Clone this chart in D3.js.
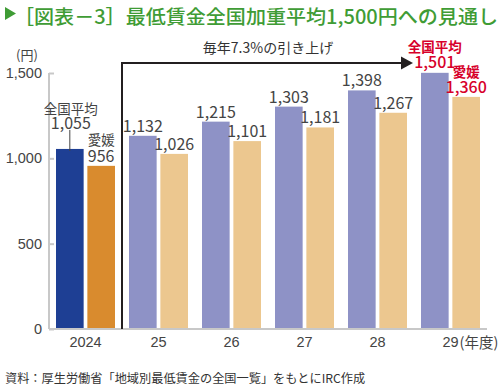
<!DOCTYPE html>
<html><head><meta charset="utf-8">
<script src="https://cdn.jsdelivr.net/npm/d3@7"></script>
<style>
html,body{margin:0;padding:0;background:#fff;}
svg{display:block;font-family:"Noto Sans CJK JP","Noto Sans",sans-serif;}
</style></head>
<body>
<svg id="c" width="500" height="389"></svg>
<script>
const years = ["2024","25","26","27","28","29"];
const national = [1055,1132,1215,1303,1398,1501];
const ehime = [956,1026,1101,1181,1267,1360];
const yTicks = [0,500,1000,1500];
const seriesNames = ["全国平均","愛媛"];
const title = "［図表－3］最低賃金全国加重平均1,500円への見通し";
const note = "毎年7.3%の引き上げ";
const source = "資料：厚生労働省「地域別最低賃金の全国一覧」をもとにIRC作成";

const svg = d3.select("#c");
const green = "#3f9c35";
const txt = "#444";
const grey = "#c8c8c8";
const red = "#d7002a";
const colNatPast = "#1e3f94", colEhPast = "#d98b2e";
const colNat = "#8e92c6", colEh = "#ecc78f";

// Title
svg.append("path").attr("d","M5,7 L16,13.5 L5,20 Z").attr("fill",green);
svg.append("text").attr("x",14).attr("y",24).attr("fill",green).attr("font-weight",500)
  .attr("font-size",19.5).attr("textLength",484).attr("lengthAdjust","spacingAndGlyphs").text(title);

const x0 = 49, x1 = 487;
const x = d3.scaleBand().domain(years).range([x0,x1]).paddingInner(14/73).paddingOuter(7/73);
const xi = d3.scaleBand().domain([0,1]).range([0,x.bandwidth()]).paddingInner(7/59);
const y = d3.scaleLinear().domain([0,1500]).range([329,73]);

// Y axis
svg.append("line").attr("x1",x0).attr("x2",x0).attr("y1",y(0)).attr("y2",y(1500))
  .attr("stroke",grey).attr("stroke-width",2);
const yAx = svg.append("g").attr("transform",`translate(${x0},0)`)
  .call(d3.axisRight(y).tickValues(yTicks).tickSize(5).tickFormat(d3.format(",")));
yAx.select(".domain").remove();
yAx.selectAll(".tick line").attr("stroke",grey).attr("stroke-width",2);
yAx.selectAll(".tick text").attr("x",-7).attr("text-anchor","end").attr("fill",txt)
  .attr("font-size",14.5).attr("font-family",null);
svg.append("text").attr("x",27).attr("y",60).attr("text-anchor","middle").attr("fill",txt)
  .attr("font-size",13).text("(円)");

// Bars
years.forEach((yr,i)=>{
  const vals = [national[i], ehime[i]];
  vals.forEach((v,j)=>{
    const col = i===0 ? (j===0?colNatPast:colEhPast) : (j===0?colNat:colEh);
    svg.append("rect").attr("x",x(yr)+xi(j)).attr("width",xi.bandwidth())
      .attr("y",y(v)).attr("height",y(0)-y(v)).attr("fill",col);
  });
});

// Baseline + x axis
const xAx = svg.append("g").attr("transform",`translate(0,${y(0)})`)
  .call(d3.axisBottom(x).tickSize(0).tickPadding(8));
xAx.select(".domain").attr("stroke",grey).attr("stroke-width",2).attr("d",`M${x0},0H${x1}`);
xAx.selectAll(".tick text").attr("fill",txt).attr("font-size",14.5).attr("font-family",null);
svg.append("text").attr("x",x("29")+x.bandwidth()/2+9).attr("y",y(0)+19)
  .attr("fill",txt).attr("font-size",14.5).text("(年度)");

// Separator and arrow
const sepX = (x("2024")+x.bandwidth()+x("25"))/2;
const arrY = 63;
const tipX = x("29") - 8;
svg.append("path").attr("d",`M${sepX},${y(0)}V${arrY}H${tipX-11}`)
  .attr("fill","none").attr("stroke","#231f20").attr("stroke-width",2);
svg.append("path").attr("d",`M${tipX-12},${arrY-6.5}L${tipX},${arrY}L${tipX-12},${arrY+6.5}Z`).attr("fill","#231f20");
svg.append("text").attr("x",268).attr("y",53).attr("text-anchor","middle").attr("fill","#333")
  .attr("font-size",14).text(note);

// Value labels
years.forEach((yr,i)=>{
  const vals = [national[i], ehime[i]];
  vals.forEach((v,j)=>{
    const cx = x(yr)+xi(j)+xi.bandwidth()/2;
    if (i===0) return;
    if (i===years.length-1) return;
    svg.append("text").attr("x",cx).attr("y",y(v)-4).attr("text-anchor","middle")
      .attr("fill",txt).attr("font-size",16).text(d3.format(",")(v));
  });
});
// 2024 labels
{
  const cN = x("2024")+xi(0)+xi.bandwidth()/2;
  const cE = x("2024")+xi(1)+xi.bandwidth()/2;
  svg.append("line").attr("x1",cN).attr("x2",cN).attr("y1",y(national[0])-19).attr("y2",y(national[0])+2)
    .attr("stroke",txt).attr("stroke-width",1);
  svg.append("text").attr("x",cN+1).attr("y",y(national[0])-35).attr("text-anchor","middle")
    .attr("fill",txt).attr("font-size",13.5).text(seriesNames[0]);
  svg.append("text").attr("x",cN+1).attr("y",y(national[0])-20).attr("text-anchor","middle")
    .attr("fill",txt).attr("font-size",16).text(d3.format(",")(national[0]));
  svg.append("text").attr("x",cE).attr("y",y(ehime[0])-21).attr("text-anchor","middle")
    .attr("fill",txt).attr("font-size",13.5).text(seriesNames[1]);
  svg.append("text").attr("x",cE).attr("y",y(ehime[0])-4).attr("text-anchor","middle")
    .attr("fill",txt).attr("font-size",16).text(d3.format(",")(ehime[0]));
}
// 29 labels (red)
{
  const k = years.length-1;
  const cN = x(years[k])+xi(0)+xi.bandwidth()/2;
  const cE = x(years[k])+xi(1)+xi.bandwidth()/2;
  svg.append("text").attr("x",cN).attr("y",y(national[k])-21).attr("text-anchor","middle")
    .attr("fill",red).attr("font-size",13.5).attr("font-weight","bold").text(seriesNames[0]);
  svg.append("text").attr("x",cN).attr("y",y(national[k])-5).attr("text-anchor","middle")
    .attr("fill",red).attr("font-size",16).attr("font-weight",500).text(d3.format(",")(national[k]));
  svg.append("text").attr("x",cE).attr("y",y(ehime[k])-20).attr("text-anchor","middle")
    .attr("fill",red).attr("font-size",13.5).attr("font-weight","bold").text(seriesNames[1]);
  svg.append("text").attr("x",cE).attr("y",y(ehime[k])-4).attr("text-anchor","middle")
    .attr("fill",red).attr("font-size",16).attr("font-weight",500).text(d3.format(",")(ehime[k]));
}

// Source
svg.append("text").attr("x",5).attr("y",383).attr("fill","#333").attr("font-size",12.2).text(source);
</script>
</body></html>
